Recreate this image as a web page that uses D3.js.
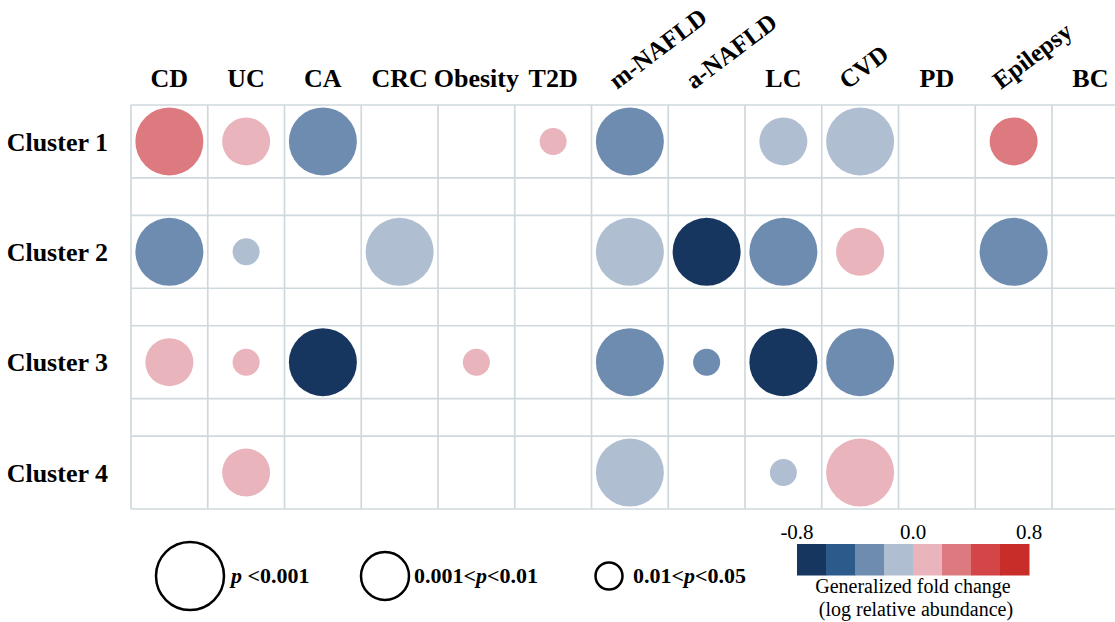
<!DOCTYPE html>
<html>
<head>
<meta charset="utf-8">
<script src="https://cdn.jsdelivr.net/npm/d3@7"></script>
<style>
  html, body { margin: 0; padding: 0; background: #fff; }
  svg { display: block; }
  text { font-family: "Liberation Serif", "Times New Roman", "DejaVu Serif", serif; fill: #000; }
</style>
</head>
<body>
<svg id="chart" width="1115" height="622"></svg>
<script>
// ---------------- DATA ----------------
const diseases = ["CD", "UC", "CA", "CRC", "Obesity", "T2D", "m-NAFLD", "a-NAFLD", "LC", "CVD", "PD", "Epilepsy", "BC"];
const rotatedDiseases = ["m-NAFLD", "a-NAFLD", "CVD", "Epilepsy"];
const clusters = ["Cluster 1", "Cluster 2", "Cluster 3", "Cluster 4"];

// generalized fold change (log relative abundance); null = not significant
const cluster1FC = [0.3, 0.1, -0.3, null, null, 0.1, -0.3, null, -0.1, -0.1, null, 0.3, null];
const cluster2FC = [-0.3, -0.1, null, -0.1, null, null, -0.1, -0.7, -0.3, 0.1, null, -0.3, null];
const cluster3FC = [0.1, 0.1, -0.7, null, 0.1, null, -0.3, -0.3, -0.7, -0.3, null, null, null];
const cluster4FC = [null, 0.1, null, null, null, null, -0.1, null, -0.1, 0.1, null, null, null];

// significance level: 1 = p<0.001, 2 = 0.001<p<0.01, 3 = 0.01<p<0.05
const cluster1P = [1, 2, 1, null, null, 3, 1, null, 2, 1, null, 2, null];
const cluster2P = [1, 3, null, 1, null, null, 1, 1, 1, 2, null, 1, null];
const cluster3P = [2, 3, 1, null, 3, null, 1, 3, 1, 1, null, null, null];
const cluster4P = [null, 2, null, null, null, null, 1, null, 3, 1, null, null, null];

const sigLevels = [1, 2, 3];
const sigLabels = ["p <0.001", "0.001<p<0.01", "0.01<p<0.05"];

const colorTicks = [-0.8, 0.0, 0.8];
const colorDomain = [-0.8, 0.8];
const palette = ["#17365f", "#2c5a8b", "#6e8cb0", "#b0bed2", "#e9b4bb", "#dd7a80", "#d44548", "#c92d2a"];

const fcRows = [cluster1FC, cluster2FC, cluster3FC, cluster4FC];
const pRows = [cluster1P, cluster2P, cluster3P, cluster4P];

const cells = [];
clusters.forEach((c, i) => {
  diseases.forEach((d, j) => {
    if (fcRows[i][j] !== null) cells.push({ cluster: c, disease: d, fc: fcRows[i][j], p: pRows[i][j] });
  });
});

// ---------------- LAYOUT ----------------
const svg = d3.select("#chart");
const gridColor = "#cfd9dd";
const fontHead = 26;

const x = d3.scaleBand().domain(diseases).range([131, 131 + 76.75 * diseases.length]).padding(0);
const y = d3.scaleBand().domain(clusters).range([105, 509]).paddingInner(0.34).paddingOuter(0);
const r = d3.scaleOrdinal().domain(sigLevels).range([34, 24, 13.5]);
const color = d3.scaleQuantize().domain(colorDomain).range(palette);

// ---------------- GRID ----------------
const grid = svg.append("g").attr("class", "grid");
const gridTop = y.range()[0], gridBottom = y.range()[1];
const hLines = [];
clusters.forEach(c => { hLines.push(y(c)); hLines.push(y(c) + y.bandwidth()); });
grid.selectAll("line.h").data(hLines).join("line")
  .attr("class", "h")
  .attr("x1", x.range()[0]).attr("x2", x.range()[1])
  .attr("y1", d => d).attr("y2", d => d)
  .attr("stroke", gridColor).attr("stroke-width", 1.7);
const vLines = diseases.map(d => x(d)).concat([x.range()[1]]);
grid.selectAll("line.v").data(vLines).join("line")
  .attr("class", "v")
  .attr("x1", d => d).attr("x2", d => d)
  .attr("y1", gridTop).attr("y2", gridBottom)
  .attr("stroke", gridColor).attr("stroke-width", 1.7);

// ---------------- BUBBLES ----------------
svg.append("g").selectAll("circle").data(cells).join("circle")
  .attr("cx", d => x(d.disease) + x.bandwidth() / 2)
  .attr("cy", d => y(d.cluster) + y.bandwidth() / 2)
  .attr("r", d => r(d.p))
  .attr("fill", d => color(d.fc));

// ---------------- COLUMN HEADERS ----------------
const head = svg.append("g");
diseases.forEach(d => {
  const cx = x(d) + x.bandwidth() / 2;
  if (rotatedDiseases.includes(d)) {
    head.append("text")
      .attr("transform", `translate(${cx - 13},90) rotate(-37)`)
      .attr("text-anchor", "start")
      .attr("font-size", 25).attr("font-weight", "bold")
      .text(d);
  } else {
    head.append("text")
      .attr("x", cx).attr("y", 87)
      .attr("text-anchor", "middle")
      .attr("font-size", fontHead).attr("font-weight", "bold")
      .text(d);
  }
});

// ---------------- ROW LABELS ----------------
svg.append("g").selectAll("text").data(clusters).join("text")
  .attr("x", 108)
  .attr("y", d => y(d) + y.bandwidth() / 2)
  .attr("dy", "0.35em")
  .attr("text-anchor", "end")
  .attr("font-size", fontHead).attr("font-weight", "bold")
  .text(d => d);

// ---------------- SIZE LEGEND ----------------
const legendCx = [190, 385, 609];
const legendTextX = [231, 414, 633];
const legY = 576;
const sizeLeg = svg.append("g");
sigLevels.forEach((lvl, i) => {
  sizeLeg.append("circle")
    .attr("cx", legendCx[i]).attr("cy", legY).attr("r", r(lvl))
    .attr("fill", "none").attr("stroke", "#000").attr("stroke-width", 2.5);
  const t = sizeLeg.append("text")
    .attr("x", legendTextX[i]).attr("y", legY + 6.5)
    .attr("font-size", 22).attr("font-weight", "bold");
  const parts = sigLabels[i].split("p");
  parts.forEach((part, k) => {
    if (k > 0) t.append("tspan").attr("font-style", "italic").text("p");
    if (part.length) t.append("tspan").text(part);
  });
});

// ---------------- COLOR LEGEND ----------------
const cbx = d3.scaleLinear().domain(colorDomain).range([797, 1029]);
const cb = svg.append("g");
const binEdges = d3.range(palette.length + 1).map(i => colorDomain[0] + i * (colorDomain[1] - colorDomain[0]) / palette.length);
cb.selectAll("rect").data(palette).join("rect")
  .attr("x", (d, i) => cbx(binEdges[i]))
  .attr("width", (d, i) => cbx(binEdges[i + 1]) - cbx(binEdges[i]) + 0.5)
  .attr("y", 544).attr("height", 31.5)
  .attr("fill", d => d);
cb.selectAll("text.tick").data(colorTicks).join("text")
  .attr("class", "tick")
  .attr("x", d => cbx(d)).attr("y", 539)
  .attr("text-anchor", "middle").attr("font-size", 21)
  .text(d => d.toFixed(1));
cb.append("text").attr("x", 913).attr("y", 593).attr("text-anchor", "middle")
  .attr("font-size", 20).text("Generalized fold change");
cb.append("text").attr("x", 916).attr("y", 616).attr("text-anchor", "middle")
  .attr("font-size", 20).text("(log relative abundance)");
</script>
</body>
</html>
